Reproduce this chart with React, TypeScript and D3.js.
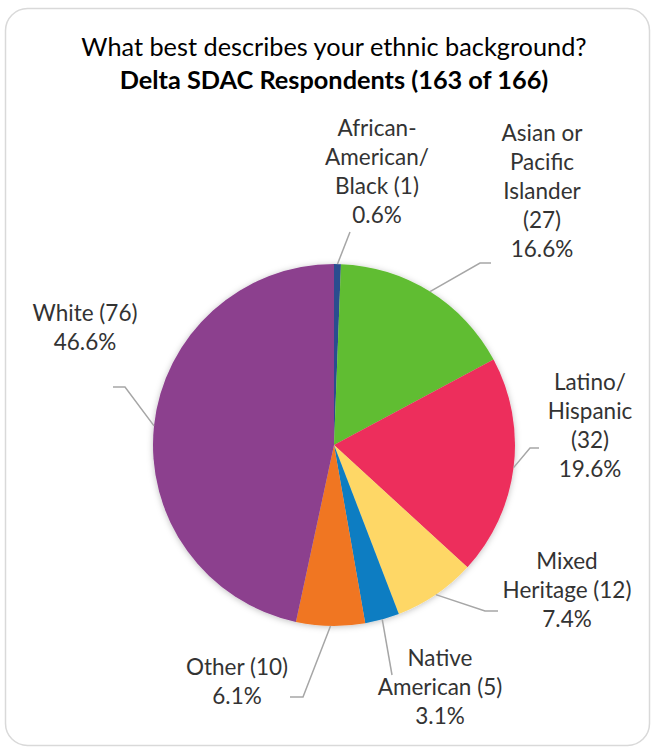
import React from "react";
import * as d3 from "d3";

const titleLine1 = "What best describes your ethnic background?";
const titleLine2 = "Delta SDAC Respondents (163 of 166)";

const categories = [
  "African-American/Black",
  "Asian or Pacific Islander",
  "Latino/Hispanic",
  "Mixed Heritage",
  "Native American",
  "Other",
  "White",
];
const counts = [1, 27, 32, 12, 5, 10, 76];
const colors = ["#2a4d8f", "#60bd32", "#ed2f5c", "#fed766", "#0a7dc2", "#f07622", "#8c3f8e"];
// label text lines (name part), count and percent are appended from data
const labelNameLines = [
  ["African-", "American/", "Black"],
  ["Asian or", "Pacific", "Islander"],
  ["Latino/", "Hispanic"],
  ["Mixed", "Heritage"],
  ["Native", "American"],
  ["Other"],
  ["White"],
];
// whether count goes on its own line
const countOnOwnLine = [false, true, true, false, false, false, false];

// layout (relative to pie center): label anchor center x, first-line center y; leader elbow + end
const labelLayout = [
  { x: 43, y: -317, elbow: null, end: [16, -213] },
  { x: 208, y: -312, elbow: [146, -182], end: [157, -182] },
  { x: 256, y: -63, elbow: [196, 3], end: [205, 3] },
  { x: 233, y: 116, elbow: [151, 166], end: [164, 166] },
  { x: 106, y: 213, elbow: null, end: [58, 230] },
  { x: -97, y: 222, elbow: [-31, 252], end: [-44, 252] },
  { x: -249, y: -132, elbow: [-209, -58], end: [-221, -58] },
];

const W = 653;
const H = 748;
const cx = 334;
const cy = 445;
const R = 181;
const FONT = "Lato, 'Open Sans', sans-serif";
const LABEL_FS = 22.5;
const TITLE_FS = 25.3;
const LINE_H = 29;

export default function App() {
  const total = d3.sum(counts);
  const pie = d3
    .pie<number>()
    .sort(null)
    .value((d) => d)
    .startAngle(0)
    .endAngle(2 * Math.PI);
  const arcs = pie(counts);
  const arc = d3.arc<d3.PieArcDatum<number>>().innerRadius(0).outerRadius(R);
  const edgeArc = d3.arc<d3.PieArcDatum<number>>().innerRadius(R).outerRadius(R);
  const fmt = d3.format(".1%");

  return (
    <svg
      width={W}
      height={H}
      style={{ position: "absolute", left: 0, top: 0, background: "#fff" }}
    >
      <defs>
        <filter id="shadow" x="-20%" y="-20%" width="140%" height="140%">
          <feDropShadow dx="0" dy="1" stdDeviation="3" floodColor="#000" floodOpacity="0.25" />
        </filter>
      </defs>
      <rect x={5.5} y={8.5} width={644} height={737} rx={22} ry={22} fill="#fff" stroke="#d9d9d9" strokeWidth={1.5} />
      <text x={cx} y={56} textAnchor="middle" fontFamily={FONT} fontSize={TITLE_FS} fill="#000">
        {titleLine1}
      </text>
      <text x={cx} y={89} textAnchor="middle" fontFamily={FONT} fontSize={TITLE_FS} fontWeight="bold" fill="#000">
        {titleLine2}
      </text>
      <g transform={`translate(${cx},${cy})`}>
        <g filter="url(#shadow)">
          {arcs.map((a, i) => (
            <path key={categories[i]} d={arc(a) || ""} fill={colors[i]} />
          ))}
        </g>
        {arcs.map((a, i) => {
          const [sx, sy] = edgeArc.centroid(a);
          const L = labelLayout[i];
          const pts: [number, number][] = [[sx, sy]];
          if (L.elbow) pts.push(L.elbow as [number, number]);
          pts.push(L.end as [number, number]);
          const line = d3.line()(pts) || "";
          return <path key={"l" + i} d={line} fill="none" stroke="#a6a6a6" strokeWidth={1.5} />;
        })}
        {arcs.map((a, i) => {
          const L = labelLayout[i];
          const names = labelNameLines[i].slice();
          const cnt = `(${counts[i]})`;
          const lines = countOnOwnLine[i]
            ? [...names, cnt]
            : [...names.slice(0, -1), `${names[names.length - 1]} ${cnt}`];
          lines.push(fmt(counts[i] / total));
          return (
            <text
              key={"t" + i}
              textAnchor="middle"
              fontFamily={FONT}
              fontSize={LABEL_FS}
              fill="#333"
            >
              {lines.map((ln, j) => (
                <tspan key={j} x={L.x} y={L.y + j * LINE_H + 7.5}>
                  {ln}
                </tspan>
              ))}
            </text>
          );
        })}
      </g>
    </svg>
  );
}
